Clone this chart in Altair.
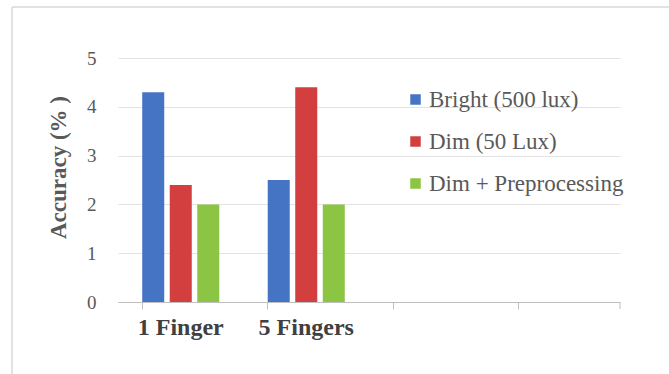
import altair as alt
import pandas as pd

categories = ["1 Finger", "5 Fingers", "_3", "_4"]
series = ["Bright (500 lux)", "Dim (50 Lux)", "Dim + Preprocessing"]
colors = ["#4674C4", "#D23F3E", "#8CC443"]
values_1finger = [4.3, 2.4, 2.0]
values_5fingers = [2.5, 4.4, 2.0]

rows = []
for s, v in zip(series, values_1finger):
    rows.append({"cat": "1 Finger", "series": s, "value": v})
for s, v in zip(series, values_5fingers):
    rows.append({"cat": "5 Fingers", "series": s, "value": v})
df = pd.DataFrame(rows)

FONT = "Liberation Serif"
W, H = 502, 244

bars = alt.Chart(df).mark_bar().encode(
    x=alt.X("cat:N", scale=alt.Scale(domain=categories, paddingInner=0.386, paddingOuter=0.193),
            sort=categories,
            axis=alt.Axis(title=None, labelAngle=0, bandPosition=0, grid=False,
                          labelExpr="indexof(datum.value, '_') == 0 ? '' : datum.value",
                          labelFont=FONT, labelFontSize=24, labelFontWeight="bold",
                          labelColor="#404040", labelPadding=6, tickSize=7,
                          tickColor="#BFBFBF", domainColor="#BFBFBF", labelFlush=False)),
    xOffset=alt.XOffset("series:N", scale=alt.Scale(domain=series, paddingInner=0.2, paddingOuter=0)),
    y=alt.Y("value:Q", scale=alt.Scale(domain=[0, 5]),
            axis=alt.Axis(title="Accuracy (% )", values=[0, 1, 2, 3, 4, 5], domain=False, ticks=False,
                          labelFont=FONT, labelFontSize=19, labelColor="#595959", labelPadding=22,
                          titleFont=FONT, titleFontSize=23, titleFontWeight="bold", titleColor="#595959",
                          titleX=-48, titleY=109, gridColor="#E3E3E3")),
    color=alt.Color("series:N", scale=alt.Scale(domain=series, range=colors),
                    legend=alt.Legend(title=None, orient="none", legendX=286, legendY=30,
                                      symbolType="square", symbolSize=110, symbolStrokeWidth=0,
                                      labelFont=FONT, labelFontSize=23, labelColor="#595959",
                                      labelLimit=0, rowPadding=18, labelOffset=2)),
)

frame = alt.Data(values=[{}])
left_border = alt.Chart(frame).mark_rule(color="#D9D9D9", strokeWidth=1.5).encode(
    x=alt.value(-106), y=alt.value(-51), y2=alt.value(316))
top_border = alt.Chart(frame).mark_rule(color="#D9D9D9", strokeWidth=1.5).encode(
    x=alt.value(-106), x2=alt.value(551), y=alt.value(-51))
last_tick = alt.Chart(frame).mark_rule(color="#BFBFBF").encode(
    x=alt.value(W), y=alt.value(H), y2=alt.value(H + 7))

chart = alt.layer(bars, last_tick, left_border, top_border).properties(
    width=W, height=H,
    autosize=alt.AutoSizeParams(type="none"),
    padding={"left": 118, "top": 58, "right": 49, "bottom": 72},
    background="white",
).configure_view(stroke=None)

chart.save("out.html", embed_options={"renderer": "svg", "actions": False})
